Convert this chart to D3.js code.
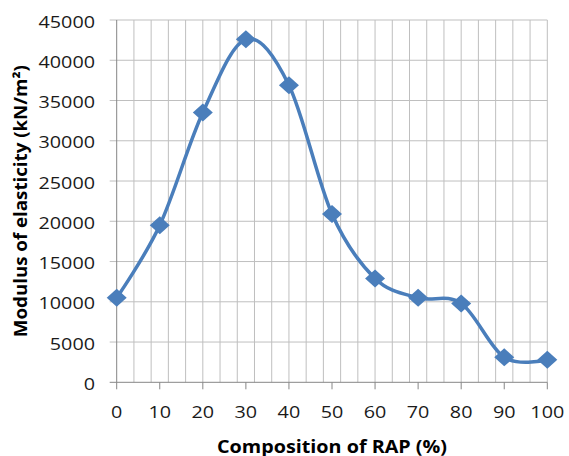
<!DOCTYPE html>
<html>
<head>
<meta charset="utf-8">
<script src="https://cdn.jsdelivr.net/npm/d3@7"></script>
<style>
  html, body { margin: 0; padding: 0; background: #fff; }
  svg { display: block; }
</style>
</head>
<body>
<svg id="chart" width="569" height="456"></svg>
<script>
// ---- data ----
const rapPercent = [0, 10, 20, 30, 40, 50, 60, 70, 80, 90, 100];
const modulus = [10500, 19500, 33500, 42600, 36900, 20900, 12900, 10500, 9800, 3100, 2800];
const xTickValues = [0, 10, 20, 30, 40, 50, 60, 70, 80, 90, 100];
const yTickValues = [0, 5000, 10000, 15000, 20000, 25000, 30000, 35000, 40000, 45000];
const xTitle = "Composition of RAP (%)";
const yTitle = "Modulus of elasticity (kN/m²)";

// ---- layout ----
const svg = d3.select("#chart");
const pLeft = 116.7, pRight = 547.3, pTop = 20, pBottom = 382.3;
const x = d3.scaleLinear().domain([0, 100]).range([pLeft, pRight]);
const y = d3.scaleLinear().domain([0, 45000]).range([pBottom, pTop]);

const gridColor = "#bfbfbf";
const axisColor = "#868686";
const lineColor = "#4a7ebb";
const numFont = "Open Sans, DejaVu Sans, sans-serif";
const digitW = 11.3;

// vertical gridlines every 4 units
const vGrid = d3.range(4, 100.001, 4);
svg.append("g").selectAll("line").data(vGrid).join("line")
  .attr("x1", d => x(d)).attr("x2", d => x(d))
  .attr("y1", pTop).attr("y2", pBottom)
  .attr("stroke", gridColor).attr("stroke-width", 1);

// horizontal gridlines (incl. outside tick stubs)
svg.append("g").selectAll("line").data(yTickValues.filter(d => d > 0)).join("line")
  .attr("x1", pLeft - 7).attr("x2", pRight)
  .attr("y1", d => y(d)).attr("y2", d => y(d))
  .attr("stroke", gridColor).attr("stroke-width", 1);

// axes lines
svg.append("line").attr("x1", pLeft).attr("x2", pLeft).attr("y1", pTop).attr("y2", pBottom)
  .attr("stroke", axisColor).attr("stroke-width", 1);
svg.append("line").attr("x1", pLeft - 7).attr("x2", pRight).attr("y1", pBottom).attr("y2", pBottom)
  .attr("stroke", axisColor).attr("stroke-width", 1);

// x ticks
svg.append("g").selectAll("line").data(xTickValues).join("line")
  .attr("x1", d => x(d)).attr("x2", d => x(d))
  .attr("y1", pBottom).attr("y2", pBottom + 7)
  .attr("stroke", axisColor).attr("stroke-width", 1);

// x tick labels
svg.append("g").selectAll("text").data(xTickValues).join("text")
  .attr("x", d => x(d)).attr("y", 417.5)
  .attr("text-anchor", "middle")
  .attr("font-family", numFont).attr("font-size", 17).attr("fill", "#1a1a1a")
  .attr("textLength", d => String(d).length * digitW)
  .attr("lengthAdjust", "spacingAndGlyphs")
  .text(d => d);

// y tick labels
svg.append("g").selectAll("text").data(yTickValues).join("text")
  .attr("x", 95).attr("y", d => y(d) + 7.5)
  .attr("text-anchor", "end")
  .attr("font-family", numFont).attr("font-size", 17).attr("fill", "#1a1a1a")
  .attr("textLength", d => String(d).length * digitW)
  .attr("lengthAdjust", "spacingAndGlyphs")
  .text(d => d);

// smoothed line
const pts = rapPercent.map((r, i) => [r, modulus[i]]);
const line = d3.line().x(d => x(d[0])).y(d => y(d[1])).curve(d3.curveCardinal.tension(0));
svg.append("path").datum(pts)
  .attr("d", line)
  .attr("fill", "none").attr("stroke", lineColor).attr("stroke-width", 3.5)
  .attr("stroke-linejoin", "round");

// diamond markers
const hw = 10, hh = 9;
svg.append("g").selectAll("path").data(pts).join("path")
  .attr("transform", d => `translate(${x(d[0])},${y(d[1])})`)
  .attr("d", `M0,${-hh}L${hw},0L0,${hh}L${-hw},0Z`)
  .attr("fill", lineColor);

// axis titles
svg.append("text")
  .attr("x", (pLeft + pRight) / 2).attr("y", 452.5)
  .attr("text-anchor", "middle")
  .attr("font-family", "Open Sans, Liberation Sans, Arial, sans-serif").attr("font-weight", "bold")
  .attr("font-size", 17.5).attr("fill", "#000")
  .attr("textLength", 230).attr("lengthAdjust", "spacingAndGlyphs")
  .text(xTitle);

svg.append("text")
  .attr("transform", `translate(27,${(pTop + pBottom) / 2}) rotate(-90)`)
  .attr("text-anchor", "middle")
  .attr("font-family", "Open Sans, Liberation Sans, Arial, sans-serif").attr("font-weight", "bold")
  .attr("font-size", 17.5).attr("fill", "#000")
  .attr("textLength", 272).attr("lengthAdjust", "spacingAndGlyphs")
  .text(yTitle);
</script>
</body>
</html>
